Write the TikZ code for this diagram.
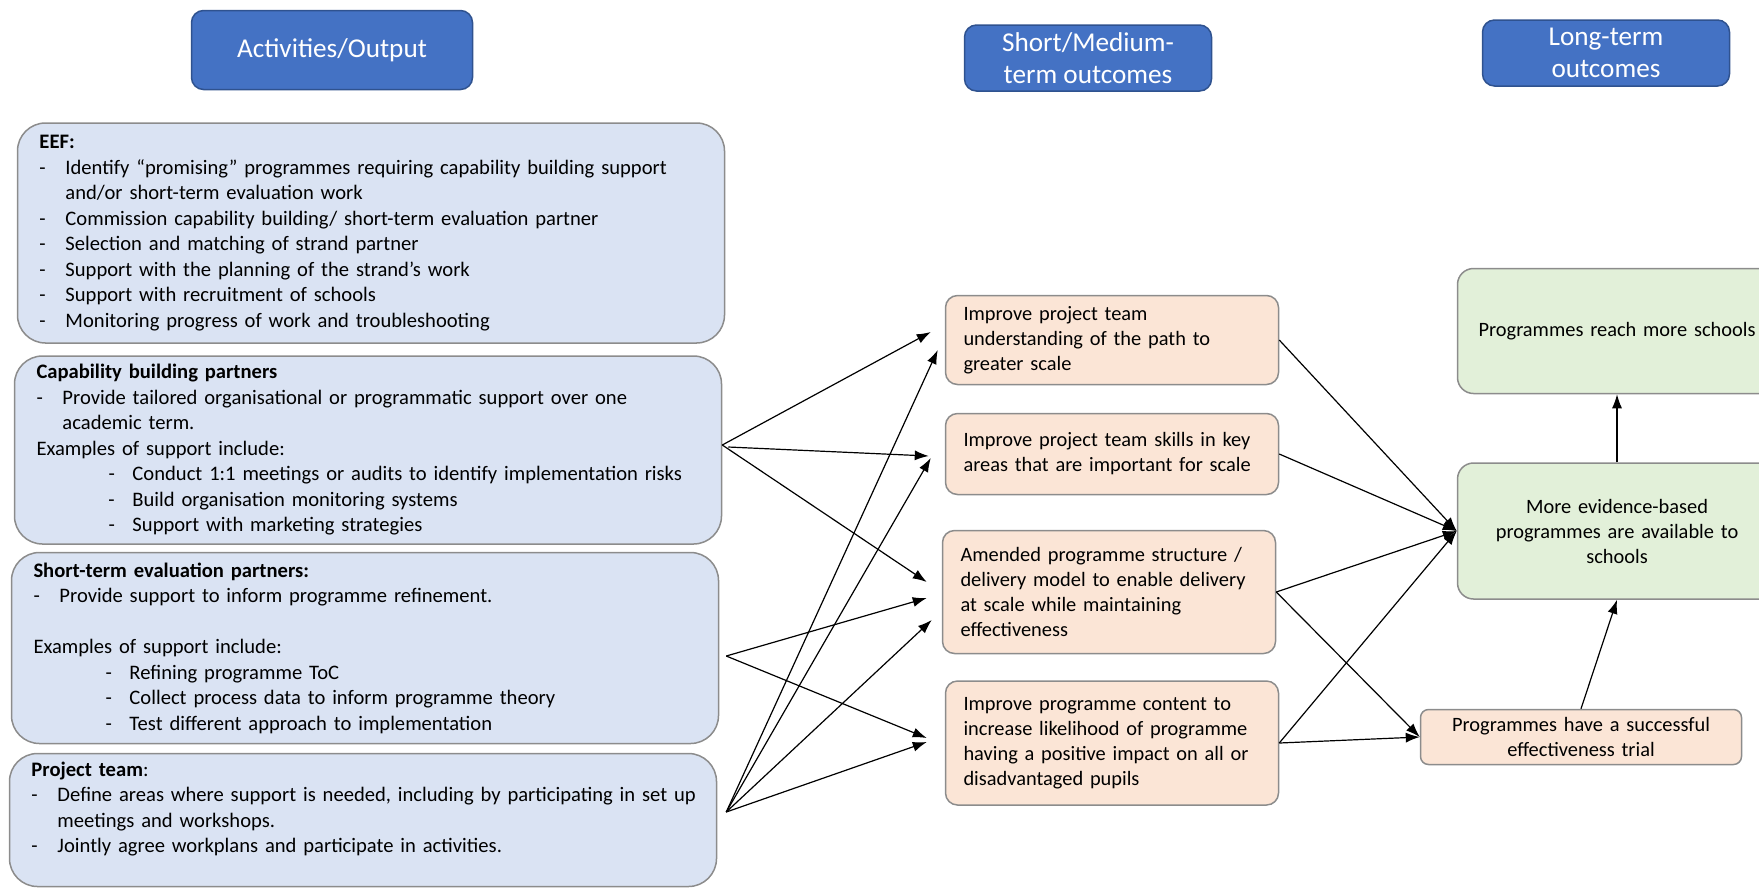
\documentclass[tikz,border=0pt]{standalone}
\usepackage{fontspec}
\setmainfont{Carlito}
\usepackage{tikz}
\usetikzlibrary{shapes, arrows.meta}
\definecolor{headblue}{HTML}{4472C4}
\definecolor{headedge}{HTML}{2F528F}
\definecolor{actfill}{HTML}{DAE3F3}
\definecolor{midfill}{HTML}{FBE5D6}
\definecolor{longfill}{HTML}{E2F0D9}
\definecolor{boxedge}{HTML}{8C8C8C}
\tikzstyle{header} = [rectangle, draw=headedge, line width=0.75pt, fill=headblue, text=white,
    align=center, rounded corners=6pt, font=\fontsize{13.6}{15.7}\selectfont,
    minimum width=123.5pt, minimum height=33pt, inner sep=2pt]
\tikzstyle{activity} = [rectangle, draw=boxedge, line width=0.75pt, fill=actfill, rounded corners=14pt,
    text width=331.5pt, inner xsep=11pt, align=left, font=\fontsize{10.3}{12.75}\selectfont]
\tikzstyle{outcome} = [rectangle, draw=boxedge, line width=0.75pt, fill=midfill, rounded corners=6pt,
    text width=148.5pt, inner xsep=9pt, align=left, font=\fontsize{10.2}{12.5}\selectfont]
\tikzstyle{longterm} = [rectangle, draw=boxedge, line width=0.75pt, fill=longfill, rounded corners=8pt,
    text width=147.5pt, inner xsep=6pt, align=center, font=\fontsize{10.2}{12.5}\selectfont]
\tikzstyle{trial} = [rectangle, draw=boxedge, line width=0.75pt, fill=midfill, rounded corners=4pt,
    text width=148.5pt, inner xsep=6pt, align=center, minimum height=27.5pt, font=\fontsize{10.2}{12.9}\selectfont]
\tikzstyle{line} = [draw, line width=0.6pt, -{Latex[length=7pt, width=5pt]}]
\newcommand{\mainpoint}[1]{\par\hangindent=13pt\hangafter=1\noindent\makebox[13pt][l]{-}#1}
\newcommand{\subpoint}[1]{\par\hangindent=48pt\hangafter=1\noindent\hspace*{36pt}\makebox[12pt][l]{-}#1}
\begin{document}
\begin{tikzpicture}[x=0.5pt, y=-0.5pt]
        \useasboundingbox (0,0) rectangle (1759,890);
        % Column headers
        \node [header, minimum width=140.5pt, minimum height=39.5pt] (acts) at (332,50) {Activities/Output};
        \node [header] (shortmed) at (1088,58) {Short/Medium-\\term outcomes};
        \node [header] (longrun) at (1606,53) {Long-term\\outcomes};
        % Activities
        \node [activity, minimum height=110pt] (eef) at (371,233) {
            \textbf{EEF:}
            \mainpoint{Identify “promising” programmes requiring capability building support\newline and/or short-term evaluation work}
            \mainpoint{Commission capability building/ short-term evaluation partner}
            \mainpoint{Selection and matching of strand partner}
            \mainpoint{Support with the planning of the strand’s work}
            \mainpoint{Support with recruitment of schools}
            \mainpoint{Monitoring progress of work and troubleshooting}
        };
        \node [activity, minimum height=94pt, node distance=108.5pt, below of=eef, xshift=-1.5pt] (cap) {
            \textbf{Capability building partners}
            \mainpoint{Provide tailored organisational or programmatic support over one\newline academic term.}
            \par\noindent Examples of support include:
            \subpoint{Conduct 1:1 meetings or audits to identify implementation risks}
            \subpoint{Build organisation monitoring systems}
            \subpoint{Support with marketing strategies}
        };
        \node [activity, minimum height=95.5pt, node distance=99pt, below of=cap, xshift=-1.5pt] (evalp) {
            \textbf{Short-term evaluation partners:}
            \mainpoint{Provide support to inform programme refinement.}
            \par\mbox{}
            \par\noindent Examples of support include:
            \subpoint{Refining programme ToC}
            \subpoint{Collect process data to inform programme theory}
            \subpoint{Test different approach to implementation}
        };
        \node [activity, minimum height=66.5pt, node distance=86pt, below of=evalp, xshift=-1pt] (team) {
            \textbf{Project team}:
            \mainpoint{\mbox{Define areas where support is needed, including by participating in set up}\newline meetings and workshops.}
            \mainpoint{Jointly agree workplans and participate in activities.}
            \par\mbox{}
        };
        % Short/medium-term outcomes
        \node [outcome, minimum height=44.5pt] (scale) at (1112,340) {Improve project team\\understanding of the path to\\greater scale};
        \node [outcome, minimum height=40.5pt, node distance=57pt, below of=scale] (skills) {Improve project team skills in key\\areas that are important for scale};
        \node [outcome, minimum height=61.5pt, node distance=69pt, below of=skills, xshift=-1.5pt] (model) {Amended programme structure /\\delivery model to enable delivery\\at scale while maintaining\\effectiveness};
        \node [outcome, minimum height=62pt, node distance=75.5pt, below of=model, xshift=1.5pt] (content) {Improve programme content to\\increase likelihood of programme\\having a positive impact on all or\\disadvantaged pupils};
        % Long-term outcomes
        \node [longterm, minimum height=68pt] (evidence) at (1617,531) {More evidence-based\\programmes are available to\\schools};
        \node [longterm, minimum height=62.5pt, node distance=100pt, above of=evidence] (reach) {Programmes reach more schools};
        \node [trial, node distance=103pt, below of=evidence, xshift=-18pt] (effect) {Programmes have a successful\\effectiveness trial};
        % Start points
        \coordinate (capout) at ([yshift=2.5pt]cap.east);
        \coordinate (evalout) at ([xshift=3.5pt,yshift=-4pt]evalp.east);
        \coordinate (teamout) at ([xshift=4.5pt,yshift=4pt]team.east);
        % Draw edges
        \path [line] (capout) -- ([xshift=-7pt,yshift=4pt]scale.west);
        \path [line] ([xshift=3pt,yshift=-1pt]capout) -- ([xshift=-8pt,yshift=-1pt]skills.west);
        \path [line] (capout) -- ([xshift=-7.5pt,yshift=5pt]model.west);
        \path [line] (evalout) -- ([xshift=-7.5pt,yshift=-3pt]model.west);
        \path [line] (evalout) -- ([xshift=-9pt,yshift=2.5pt]content.west);
        \path [line] (teamout) -- ([xshift=-3.5pt,yshift=-5pt]scale.west);
        \path [line] (teamout) -- ([xshift=-7pt,yshift=-2pt]skills.west);
        \path [line] (teamout) -- ([xshift=-5pt,yshift=-14pt]model.west);
        \path [line] (teamout) -- ([xshift=-9pt,yshift=0.5pt]content.west);
        \path [line] (scale.east) -- (evidence.west);
        \path [line] (skills.east) -- (evidence.west);
        \path [line] (model.east) -- (evidence.west);
        \path [line] (content.east) -- (evidence.west);
        \path [line] (model.east) -- (effect.west);
        \path [line] (content.east) -- (effect.west);
        \path [line] (evidence.north) -- (reach.south);
        \path [line] (effect.north) -- (evidence.south);
    \end{tikzpicture}
\end{document}
